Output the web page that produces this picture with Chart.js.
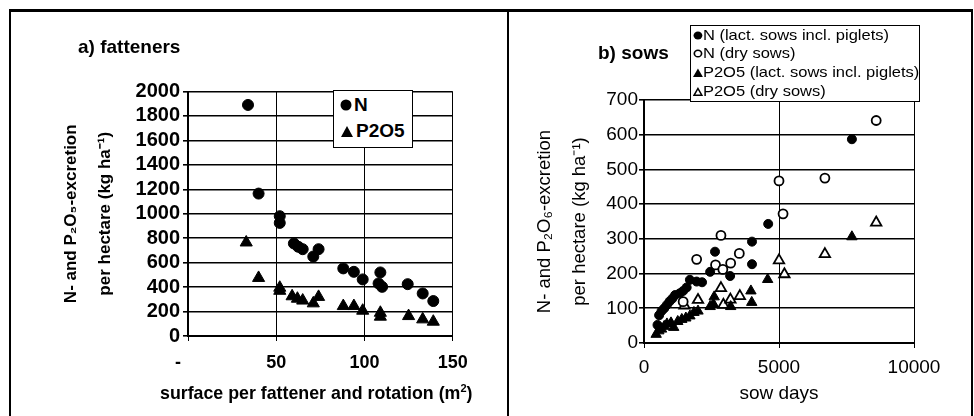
<html>
    <head>
        <title>N and P2O5 excretion per hectare</title>
        <script src="https://cdn.jsdelivr.net/npm/chart.js"></script>
        <style>
            body {
                margin: 0;
                background: white;
                font-family: "Liberation Sans", Arial, sans-serif;
                color: black;
            }
            #frame {
                position: absolute;
                left: 9px; top: 9px;
                width: 960px; height: 420px;
                border-top: 3px solid #000;
                border-left: 2px solid #000;
                border-right: 2px solid #000;
            }
            #divider {
                position: absolute;
                left: 507px; top: 10px;
                width: 2px; height: 410px;
                background: #000;
            }
            .panel {
                position: absolute;
                top: 10px;
                height: 406px;
            }
            #left { left: 10px; width: 498px; }
            #right { left: 508px; width: 461px; }
            .ptitle {
                position: absolute;
                font-weight: bold;
                font-size: 19px;
                white-space: nowrap;
            }
            .legend {
                position: absolute;
                background: white;
                border: 1px solid #000;
                white-space: nowrap;
            }
            .legend div {
                position: absolute;
                transform-origin: 0 50%;
            }
            .legend svg { vertical-align: baseline; }
        </style>
    </head>
    <body>
        <div id="frame"></div>
        <div id="divider"></div>
        <div class="panel" id="left"><canvas id="chart-a"></canvas></div>
        <div class="panel" id="right"><canvas id="chart-b"></canvas></div>

        <div class="ptitle" style="left:78px; top:36px;">a) fatteners</div>
        <div class="ptitle" style="left:598px; top:42px;">b) sows</div>
        <div class="ptitle" style="left:160px; top:382px; font-size:17.8px;">surface per fattener and rotation (m<sup style="font-size:11px;">2</sup>)</div>

        <div class="legend" style="left:333px; top:90px; width:78px; height:56px; font-weight:bold; font-size:19px;">
            <div style="left:6px; top:3px;"><svg width="14" height="12"><circle cx="6" cy="6" r="5.5" fill="#000"/></svg>N</div>
            <div style="left:6px; top:29px;"><svg width="16" height="12"><polygon points="1,12 13,12 7,1" fill="#000"/></svg>P2O5</div>
        </div>
        <div class="legend" style="left:690px; top:25px; width:228px; height:75px; font-size:15px;">
            <div style="left:2px; top:0px; transform: scaleX(1.1);"><svg width="9" height="9"><circle cx="4.5" cy="4.5" r="4" fill="#000"/></svg>N (lact. sows incl. piglets)</div>
            <div style="left:2px; top:18px; transform: scaleX(1.1);"><svg width="9" height="9"><circle cx="4.5" cy="4.5" r="3.3" fill="#fff" stroke="#000" stroke-width="1.5"/></svg>N (dry sows)</div>
            <div style="left:2px; top:37px; transform: scaleX(1.1);"><svg width="9" height="9"><polygon points="0,9 9,9 4.5,0.5" fill="#000"/></svg>P2O5 (lact. sows incl. piglets)</div>
            <div style="left:2px; top:56px; transform: scaleX(1.1);"><svg width="9" height="9"><polygon points="1,8.2 8,8.2 4.5,1.5" fill="#fff" stroke="#000" stroke-width="1.4"/></svg>P2O5 (dry sows)</div>
        </div>

        <script>
            // a) fatteners: [surface per fattener (m2), excretion (kg/ha)]
            const fattenerN = [[34,1890],[40,1165],[52,980],[52,925],[60,757],[62.5,730],[65,710],[71,650],[74,710],
                [88,553],[94,525],[99,463],[109,520],[108,430],[110,402],[124.5,424],[133,348],[139,286]];
            const fattenerP = [[33,765],[40,475],[52,395],[52,370],[59,325],[62,305],[65,290],[71,267],[74,320],
                [88,245],[94,245],[99,207],[109,190],[109,158],[125,163],[133,136],[139,117]];

            // b) sows: [sow days, excretion (kg/ha)]
            const sowNLact = [[500,52],[560,80],[650,92],[750,100],[850,110],[950,120],[1050,128],[1150,138],[1320,143],
                [1450,150],[1580,160],[1700,182],[1950,177],[2150,175],[2450,205],[2630,263],[3190,193],[4000,227],
                [4000,292],[4600,343],[7700,587]];
            const sowNDry = [[1450,119],[1950,241],[2650,225],[2850,310],[2920,212],[3210,230],[3530,258],[5000,467],
                [5150,372],[6700,475],[8600,641]];
            const sowPLact = [[450,25],[550,35],[650,40],[750,48],[850,55],[1000,58],[1100,45],[1250,62],[1400,68],
                [1550,72],[1700,78],[1850,88],[2000,92],[2450,105],[2570,112],[2600,133],[3210,105],[3960,150],
                [3990,117],[4580,183],[7700,306]];
            const sowPDry = [[1500,108],[2000,124],[2850,158],[2940,110],[3200,125],[3550,135],[5000,238],[5200,198],
                [6700,256],[8600,347]];

            const fattenerTicksX = [0, 50, 100, 150];
            const sowTicksX = [0, 5000, 10000];

            Chart.defaults.font.family = "'Liberation Sans', Arial, sans-serif";
            Chart.defaults.color = '#000';

            const toXY = arr => arr.map(p => ({x: p[0], y: p[1]}));
            const plain = v => String(v);

            function marker(label, data, style, filled, r) {
                return {
                    label: label,
                    data: toXY(data),
                    pointStyle: style,
                    pointRadius: r,
                    pointBackgroundColor: filled ? '#000' : '#fff',
                    pointBorderColor: '#000',
                    pointBorderWidth: filled ? 1 : 1.8,
                };
            }

            const gridX = {color: '#000', lineWidth: 1, tickLength: 5, tickColor: '#000'};
            const gridY = {color: '#000', lineWidth: 1.6, tickLength: 5, tickColor: '#000'};

            new Chart(document.getElementById('chart-a'), {
                type: 'scatter',
                data: {
                    datasets: [
                        marker('N', fattenerN, 'circle', true, 5.5),
                        marker('P2O5', fattenerP, 'triangle', true, 7),
                    ]
                },
                options: {
                    animation: false,
                    responsive: true,
                    maintainAspectRatio: false,
                    layout: {padding: {left: 0, top: 81.5, right: 55.3, bottom: 10}},
                    plugins: {legend: {display: false}, tooltip: {enabled: false}},
                    scales: {
                        x: {
                            type: 'linear', min: 0, max: 150,
                            afterBuildTicks: s => { s.ticks = fattenerTicksX.map(v => ({value: v})); },
                            ticks: {
                                padding: 11,
                                font: {size: 18, weight: 'bold'},
                                // Excel accounting style: zero shown as a dash, set left of the tick
                                callback: v => v === 0 ? '-\u00a0\u00a0\u00a0\u00a0' : plain(v)
                            },
                            grid: gridX,
                            border: {color: '#000', width: 2},
                            afterFit: s => { s.height = 70; }
                        },
                        y: {
                            min: 0, max: 2000,
                            ticks: {stepSize: 200, autoSkip: false, padding: 3, font: {size: 20, weight: 'bold'}, callback: plain},
                            grid: gridY,
                            border: {color: '#000', width: 2},
                            title: {
                                display: true,
                                text: ['N- and P₂O₅-excretion', 'per hectare (kg ha⁻¹)'],
                                font: {size: 17, weight: 'bold', lineHeight: 2},
                                padding: {top: 44, bottom: 0}
                            },
                            afterFit: s => { s.width = 178; }
                        }
                    }
                }
            });

            new Chart(document.getElementById('chart-b'), {
                type: 'scatter',
                data: {
                    datasets: [
                        marker('N (lact. sows incl. piglets)', sowNLact, 'circle', true, 4.5),
                        marker('N (dry sows)', sowNDry, 'circle', false, 4.5),
                        marker('P2O5 (lact. sows incl. piglets)', sowPLact, 'triangle', true, 6),
                        marker('P2O5 (dry sows)', sowPDry, 'triangle', false, 6),
                    ]
                },
                options: {
                    animation: false,
                    responsive: true,
                    maintainAspectRatio: false,
                    layout: {padding: {left: 0, top: 90, right: 55, bottom: 10}},
                    plugins: {legend: {display: false}, tooltip: {enabled: false}},
                    scales: {
                        x: {
                            type: 'linear', min: 0, max: 10000,
                            afterBuildTicks: s => { s.ticks = sowTicksX.map(v => ({value: v})); },
                            ticks: {padding: 8, font: {size: 19}, callback: plain},
                            grid: gridX,
                            border: {color: '#000', width: 2},
                            title: {
                                display: true,
                                text: 'sow days',
                                font: {size: 19},
                                padding: {top: 0, bottom: 1}
                            },
                            afterFit: s => { s.height = 63; }
                        },
                        y: {
                            min: 0, max: 700,
                            ticks: {stepSize: 100, autoSkip: false, padding: 1, font: {size: 19}, callback: plain},
                            grid: gridY,
                            border: {color: '#000', width: 2},
                            title: {
                                display: true,
                                text: ['N- and P₂O₆-excretion', 'per hectare (kg ha⁻¹)'],
                                font: {size: 18.5, lineHeight: 1.89},
                                padding: {top: 19.5, bottom: 0}
                            },
                            afterFit: s => { s.width = 136; }
                        }
                    }
                }
            });
        </script>
    </body>
</html>
